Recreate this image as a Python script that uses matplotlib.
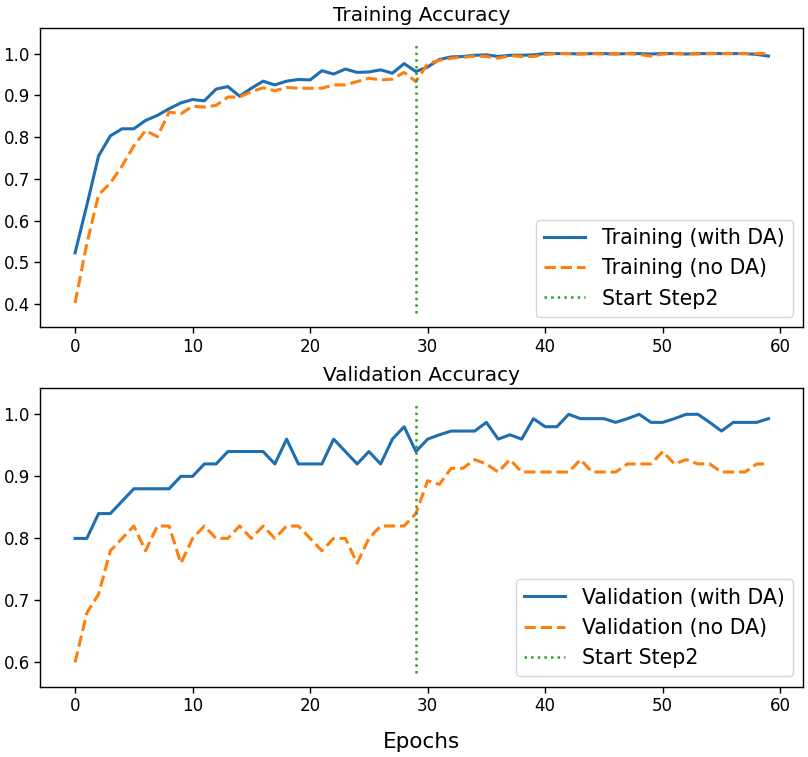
import matplotlib
matplotlib.use("Agg")
import matplotlib.pyplot as plt
import numpy as np

epochs = np.arange(60)
step2_epoch = 29

train_da = [0.523, 0.637, 0.755, 0.803, 0.820, 0.820, 0.840, 0.852, 0.868, 0.882,
            0.890, 0.887, 0.915, 0.921, 0.898, 0.917, 0.934, 0.925, 0.934, 0.938,
            0.937, 0.959, 0.951, 0.963, 0.955, 0.956, 0.961, 0.953, 0.976, 0.957,
            0.968, 0.986, 0.992, 0.993, 0.996, 0.997, 0.993, 0.996, 0.996, 0.997,
            1.000, 1.000, 1.000, 0.999, 1.000, 1.000, 0.999, 1.000, 1.000, 0.999,
            1.000, 1.000, 0.999, 1.000, 1.000, 1.000, 1.000, 1.000, 0.998, 0.994]
train_nda = [0.403, 0.545, 0.662, 0.690, 0.731, 0.779, 0.816, 0.801, 0.860, 0.856,
             0.874, 0.872, 0.876, 0.896, 0.896, 0.909, 0.918, 0.911, 0.919, 0.917,
             0.917, 0.917, 0.925, 0.925, 0.933, 0.941, 0.937, 0.939, 0.955, 0.933,
             0.976, 0.984, 0.989, 0.991, 0.994, 0.993, 0.989, 0.995, 0.993, 0.993,
             0.998, 1.000, 1.000, 1.000, 1.000, 0.999, 1.000, 1.000, 0.998, 0.994,
             0.999, 1.000, 1.000, 0.999, 1.000, 1.000, 1.000, 1.000, 1.000, 1.000]
val_da = [0.80, 0.80, 0.84, 0.84, 0.86, 0.88, 0.88, 0.88, 0.88, 0.90,
          0.90, 0.92, 0.92, 0.94, 0.94, 0.94, 0.94, 0.92, 0.96, 0.92,
          0.92, 0.92, 0.96, 0.94, 0.92, 0.94, 0.92, 0.96, 0.98, 0.94,
          0.96, 0.967, 0.973, 0.973, 0.973, 0.987, 0.96, 0.967, 0.96, 0.993,
          0.98, 0.98, 1.0, 0.993, 0.993, 0.993, 0.987, 0.993, 1.0, 0.987,
          0.987, 0.993, 1.0, 1.0, 0.987, 0.973, 0.987, 0.987, 0.987, 0.993]
val_nda = [0.60, 0.68, 0.71, 0.78, 0.80, 0.82, 0.78, 0.82, 0.82, 0.76,
           0.80, 0.82, 0.80, 0.80, 0.82, 0.80, 0.82, 0.80, 0.82, 0.82,
           0.80, 0.78, 0.80, 0.80, 0.76, 0.80, 0.82, 0.82, 0.82, 0.84,
           0.893, 0.887, 0.913, 0.913, 0.927, 0.92, 0.907, 0.927, 0.907, 0.907,
           0.907, 0.907, 0.907, 0.927, 0.907, 0.907, 0.907, 0.92, 0.92, 0.92,
           0.94, 0.92, 0.927, 0.92, 0.92, 0.907, 0.907, 0.907, 0.92, 0.92]
train_vline = (0.378, 1.028)
val_vline = (0.583, 1.02)

plt.rcParams.update({
    "font.size": 12,
    "lines.linewidth": 2.2,
    "axes.linewidth": 1.0,
    "xtick.major.size": 4.2,
    "ytick.major.size": 4.2,
    "xtick.major.width": 1.0,
    "ytick.major.width": 1.0,
})

fig = plt.figure(figsize=(8.08, 7.57), dpi=100)
ax1 = fig.add_axes([0.05, 0.568, 0.944, 0.3946])
ax2 = fig.add_axes([0.05, 0.093, 0.944, 0.394])

ax1.plot(epochs, train_da, "-", color="#1f6eb0", label="Training (with DA)")
ax1.plot(epochs, train_nda, "--", color="#ff7f0e", label="Training (no DA)")
ax1.plot([step2_epoch, step2_epoch], train_vline, ":", lw=1.8, color="#2ca02c",
         label="Start Step2")
ax1.set_title("Training Accuracy", fontsize=14.4, pad=5)
ax1.set_xticks(range(0, 61, 10))
ax1.legend(loc="lower right", fontsize=14.8)

ax2.plot(epochs, val_da, "-", color="#1f6eb0", label="Validation (with DA)")
ax2.plot(epochs, val_nda, "--", color="#ff7f0e", label="Validation (no DA)")
ax2.plot([step2_epoch, step2_epoch], val_vline, ":", lw=1.8, color="#2ca02c",
         label="Start Step2")
ax2.set_title("Validation Accuracy", fontsize=14.4, pad=5)
ax2.set_xticks(range(0, 61, 10))
ax2.set_xlabel("Epochs", fontsize=15.5, labelpad=12)
ax2.legend(loc="lower right", fontsize=14.8)

fig.savefig("out.png", dpi=100)
